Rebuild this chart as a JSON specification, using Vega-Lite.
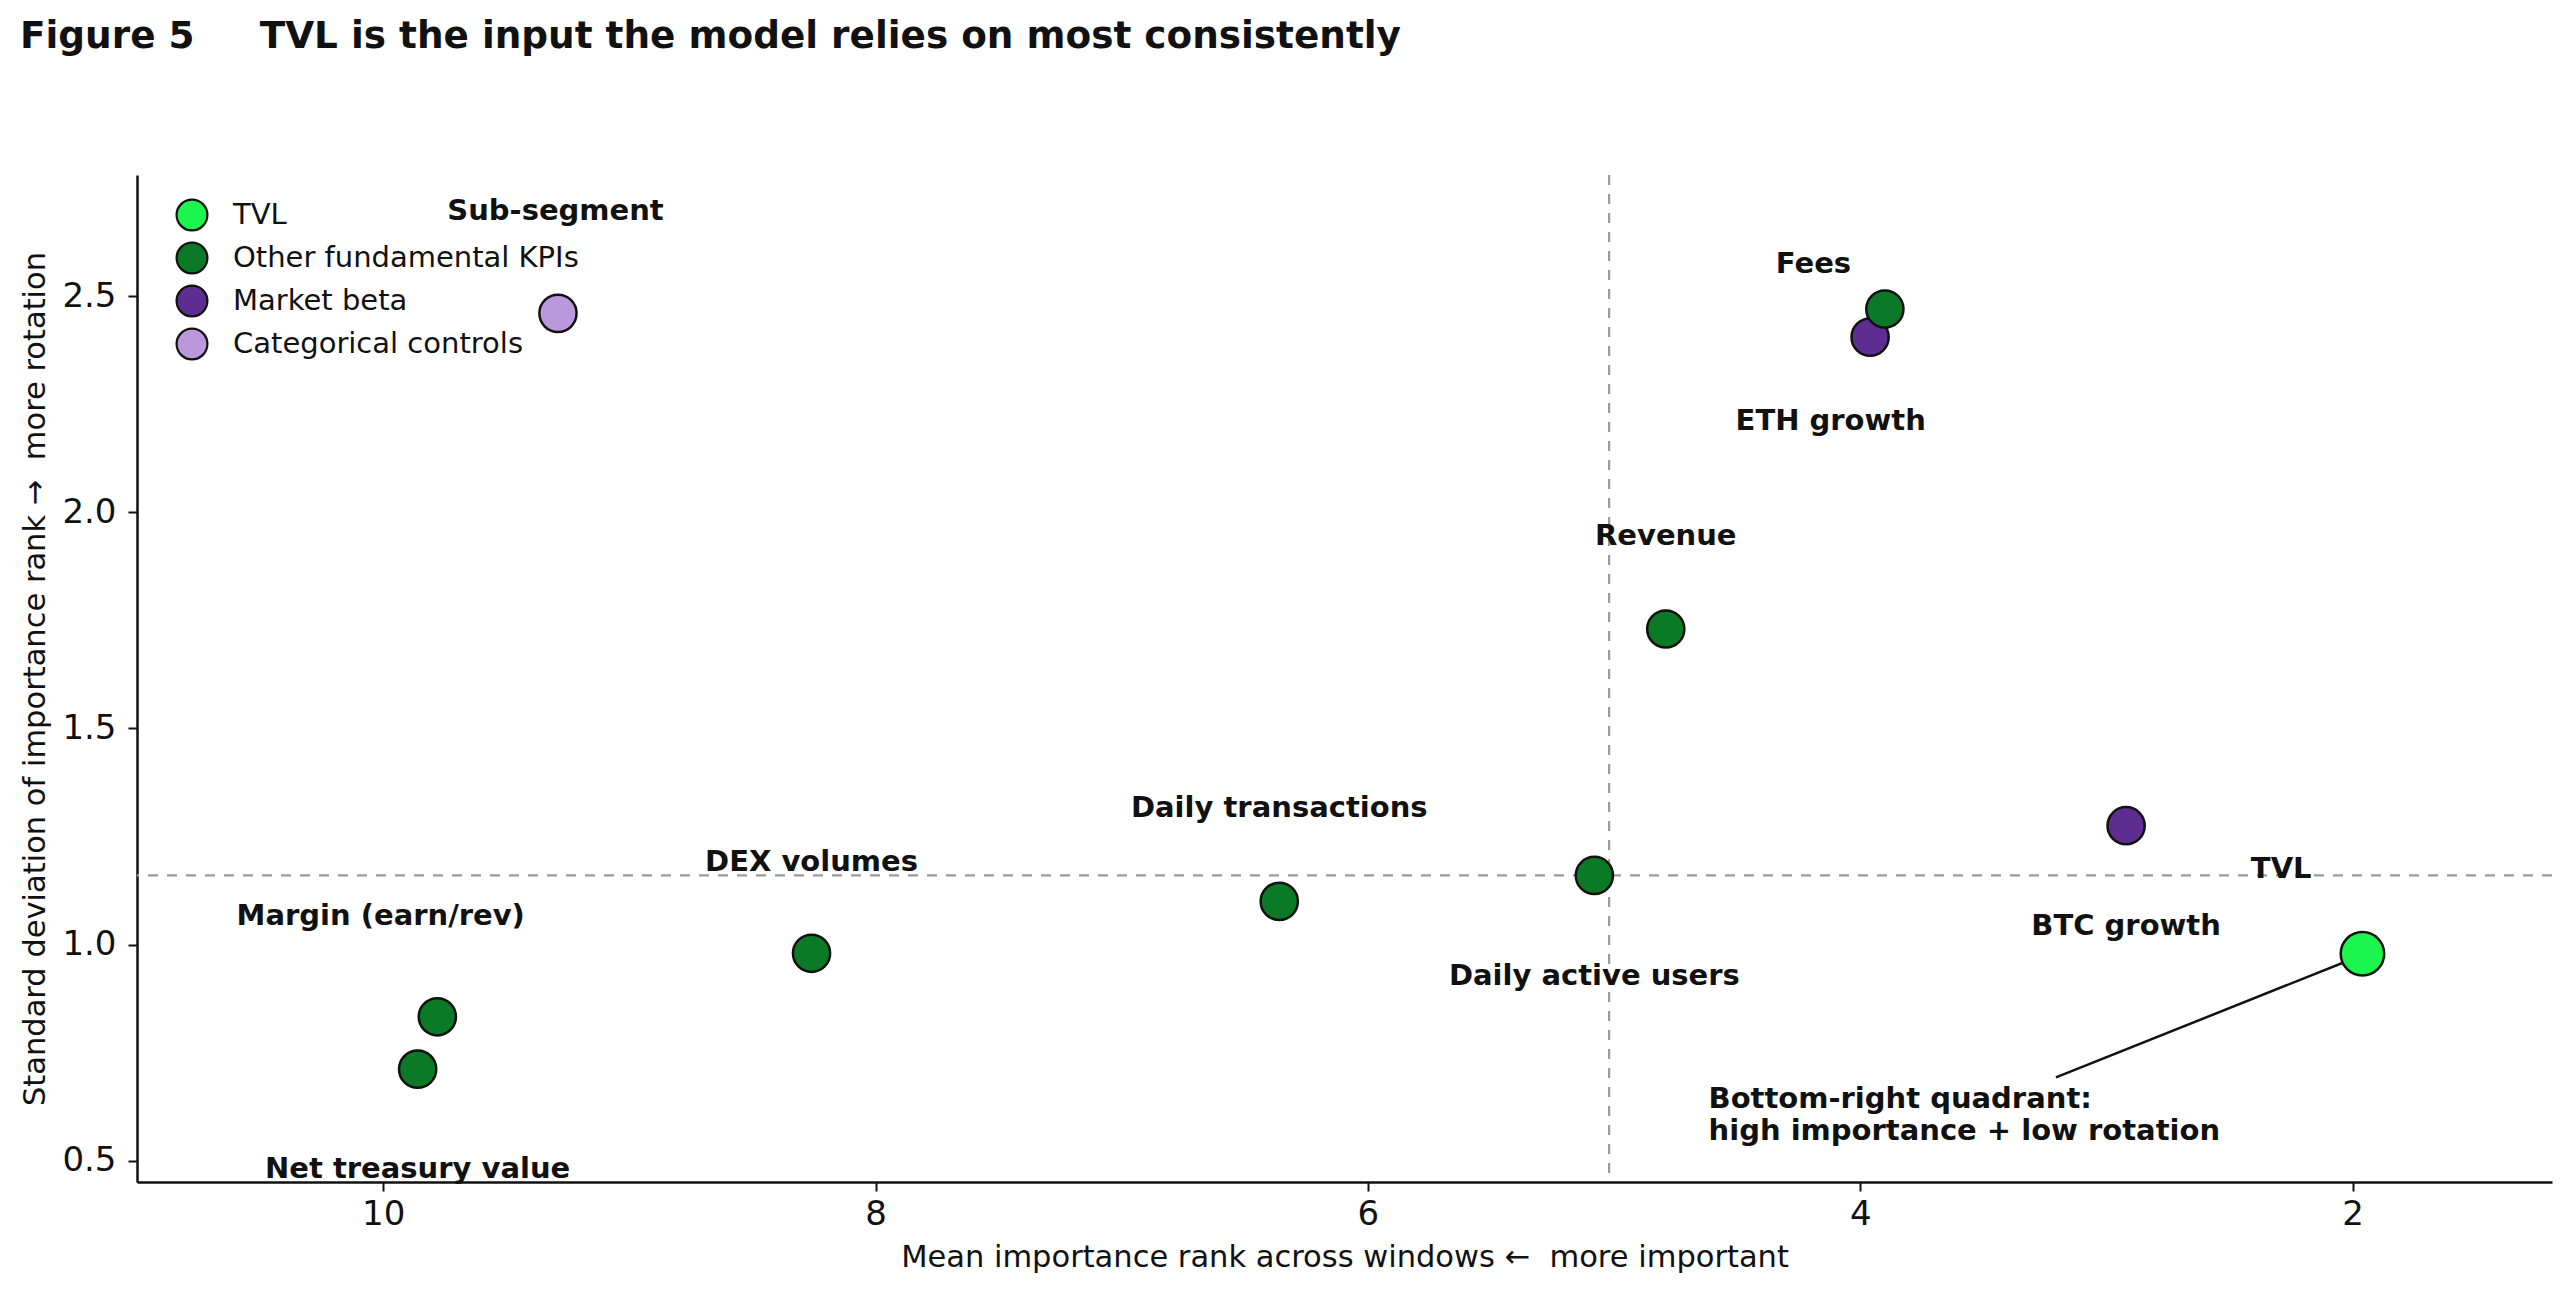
{
  "$schema": "https://vega.github.io/schema/vega-lite/v6.json",
  "autosize": "none",
  "width": 2415,
  "height": 1007,
  "padding": {"left": 137, "top": 175, "right": 8, "bottom": 112},
  "background": "white",
  "title": {
    "text": "Figure 5\u00a0\u00a0\u00a0\u00a0\u00a0TVL is the input the model relies on most consistently",
    "anchor": "start",
    "frame": "group",
    "dx": -117,
    "offset": 119,
    "font": "DejaVu Sans",
    "fontSize": 37.4,
    "fontWeight": "bold",
    "color": "#111111"
  },
  "config": {
    "view": {"stroke": null},
    "font": "DejaVu Sans",
    "axis": {
      "grid": false,
      "domainColor": "#111111",
      "domainWidth": 2.5,
      "tickColor": "#111111",
      "tickWidth": 2,
      "tickSize": 9,
      "labelFont": "DejaVu Sans",
      "labelFontSize": 34,
      "labelColor": "#111111",
      "titleFont": "DejaVu Sans",
      "titleFontSize": 30.5,
      "titleFontWeight": "normal",
      "titleColor": "#111111"
    }
  },
  "datasets": {
    "features": [
      {"feature": "Sub-segment", "group": "Categorical controls", "rank": 9.29, "sd": 2.46, "label_rank": 9.30, "label_sd": 2.696},
      {"feature": "ETH growth", "group": "Market beta", "rank": 3.96, "sd": 2.405, "label_rank": 4.12, "label_sd": 2.212},
      {"feature": "BTC growth", "group": "Market beta", "rank": 2.92, "sd": 1.275, "label_rank": 2.92, "label_sd": 1.044},
      {"feature": "Fees", "group": "Other fundamental KPIs", "rank": 3.90, "sd": 2.47, "label_rank": 4.19, "label_sd": 2.575},
      {"feature": "Revenue", "group": "Other fundamental KPIs", "rank": 4.79, "sd": 1.73, "label_rank": 4.79, "label_sd": 1.944},
      {"feature": "Daily active users", "group": "Other fundamental KPIs", "rank": 5.08, "sd": 1.16, "label_rank": 5.08, "label_sd": 0.927},
      {"feature": "Daily transactions", "group": "Other fundamental KPIs", "rank": 6.36, "sd": 1.10, "label_rank": 6.36, "label_sd": 1.317},
      {"feature": "DEX volumes", "group": "Other fundamental KPIs", "rank": 8.26, "sd": 0.98, "label_rank": 8.26, "label_sd": 1.192},
      {"feature": "Margin (earn/rev)", "group": "Other fundamental KPIs", "rank": 9.78, "sd": 0.833, "label_rank": 10.01, "label_sd": 1.067},
      {"feature": "Net treasury value", "group": "Other fundamental KPIs", "rank": 9.86, "sd": 0.712, "label_rank": 9.86, "label_sd": 0.481},
      {"feature": "TVL", "group": "TVL", "rank": 1.96, "sd": 0.979, "label_rank": 2.29, "label_sd": 1.174}
    ],
    "medians": [{"rank": 5.02, "sd": 1.16}],
    "callout": [
      {"note": ["Bottom-right quadrant:", "high importance + low rotation"], "rank": 4.616, "sd": 0.642, "from_rank": 3.205, "from_sd": 0.693, "to_rank": 1.978, "to_sd": 0.972}
    ]
  },
  "encoding": {
    "x": {
      "field": "rank",
      "type": "quantitative",
      "scale": {"domain": [1.19, 11.0], "reverse": true, "nice": false, "zero": false},
      "axis": {
        "title": "Mean importance rank across windows \u2190\u00a0 more important",
        "values": [2, 4, 6, 8, 10],
        "format": "d",
        "labelPadding": 6,
        "titlePadding": 11
      }
    },
    "y": {
      "field": "sd",
      "type": "quantitative",
      "scale": {"domain": [0.451, 2.78], "nice": false, "zero": false},
      "axis": {
        "title": "Standard deviation of importance rank \u2192\u00a0 more rotation",
        "values": [0.5, 1.0, 1.5, 2.0, 2.5],
        "format": ".1f",
        "labelPadding": 12,
        "titlePadding": 11
      }
    }
  },
  "layer": [
    {
      "data": {"name": "medians"},
      "mark": {"type": "rule", "color": "#9a9a9a", "strokeWidth": 2.2, "strokeDash": [10, 9]},
      "encoding": {"x": {"field": "rank", "type": "quantitative"}, "y": null}
    },
    {
      "data": {"name": "medians"},
      "mark": {"type": "rule", "color": "#9a9a9a", "strokeWidth": 2.2, "strokeDash": [10, 9]},
      "encoding": {"y": {"field": "sd", "type": "quantitative"}, "x": null}
    },
    {
      "data": {"name": "callout"},
      "mark": {"type": "rule", "color": "#111111", "strokeWidth": 2.5},
      "encoding": {
        "x": {"field": "from_rank", "type": "quantitative"},
        "y": {"field": "from_sd", "type": "quantitative"},
        "x2": {"field": "to_rank"},
        "y2": {"field": "to_sd"}
      }
    },
    {
      "data": {"name": "features"},
      "transform": [{"filter": "datum.group !== 'TVL'"}],
      "mark": {"type": "point", "shape": "circle", "filled": true, "opacity": 1, "size": 1385, "stroke": "#111111", "strokeWidth": 2.5},
      "encoding": {
        "color": {
          "field": "group",
          "type": "nominal",
          "scale": {
            "domain": ["TVL", "Other fundamental KPIs", "Market beta", "Categorical controls"],
            "range": ["#1cf54d", "#0b7a27", "#5e2d92", "#bb97db"]
          },
          "legend": {
            "title": null,
            "orient": "none",
            "legendX": 38,
            "legendY": 23,
            "padding": 0,
            "symbolType": "circle",
            "symbolSize": 950,
            "symbolStrokeColor": "#111111",
            "symbolStrokeWidth": 2.2,
            "symbolOpacity": 1,
            "labelFont": "DejaVu Sans",
            "labelFontSize": 29,
            "labelColor": "#111111",
            "labelLimit": 1000,
            "labelOffset": 24,
            "rowPadding": 3
          }
        }
      }
    },
    {
      "data": {"name": "features"},
      "transform": [{"filter": "datum.group === 'TVL'"}],
      "mark": {"type": "point", "shape": "circle", "filled": true, "opacity": 1, "size": 1886, "stroke": "#111111", "strokeWidth": 2.5},
      "encoding": {
        "color": {"field": "group", "type": "nominal"}
      }
    },
    {
      "data": {"name": "features"},
      "mark": {"type": "text", "font": "DejaVu Sans", "fontSize": 29, "fontWeight": "bold", "color": "#111111", "align": "center", "baseline": "middle"},
      "encoding": {
        "x": {"field": "label_rank", "type": "quantitative"},
        "y": {"field": "label_sd", "type": "quantitative"},
        "text": {"field": "feature"}
      }
    },
    {
      "data": {"name": "callout"},
      "mark": {"type": "text", "font": "DejaVu Sans", "fontSize": 29, "fontWeight": "bold", "color": "#111111", "align": "left", "baseline": "middle", "lineHeight": 32},
      "encoding": {
        "x": {"field": "rank", "type": "quantitative"},
        "y": {"field": "sd", "type": "quantitative"},
        "text": {"field": "note"}
      }
    }
  ]
}
